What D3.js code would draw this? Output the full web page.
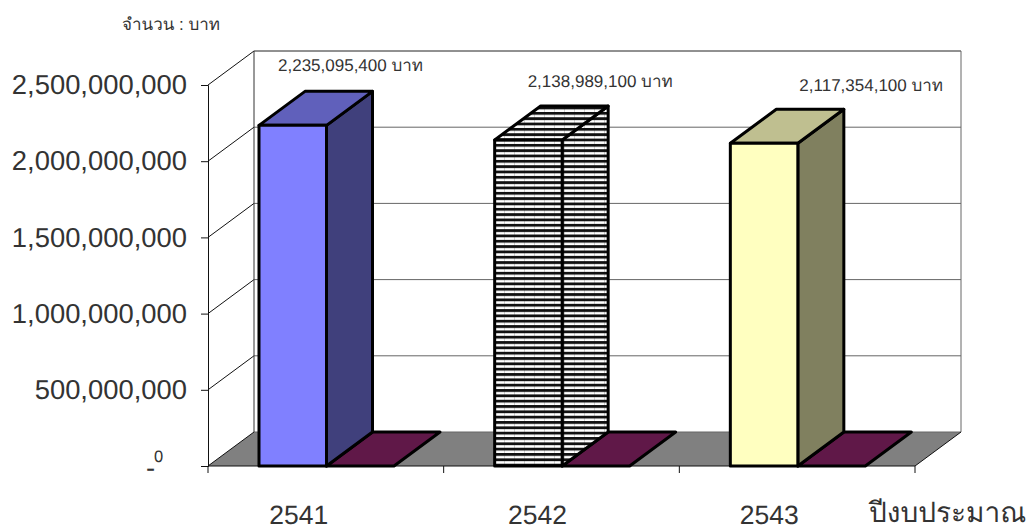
<!DOCTYPE html>
<html lang="th">
<head>
<meta charset="utf-8">
<script src="https://cdn.jsdelivr.net/npm/d3@7"></script>
<style>
  html, body { margin: 0; padding: 0; background: #fff; }
  svg { display: block; font-family: "Liberation Sans", "Noto Sans", sans-serif; text-rendering: geometricPrecision; }
  text { fill: #333; }
</style>
</head>
<body>
<div id="chart"></div>
<script>
// Data
var years = ["2541", "2542", "2543"];
var budget = [2235095400, 2138989100, 2117354100];
var secondSeries = [0, 0, 0];
var budgetLabels = ["2,235,095,400 บาท", "2,138,989,100 บาท", "2,117,354,100 บาท"];
var yTicks = [0, 500000000, 1000000000, 1500000000, 2000000000, 2500000000];
var yUnit = "จำนวน : บาท";
var xTitle = "ปีงบประมาณ";

// Face colours per year: front, top, side
var faces = [
  { front: "#8080ff", top: "#6060bb", side: "#40407c" },
  { front: "url(#stripes)", top: "url(#stripes)", side: "url(#stripes)" },
  { front: "#ffffc0", top: "#bfbf90", side: "#80805f" }
];
var zeroColor = "#601848";

// Layout
var width = 1030, height = 529;
var depthX = 46, depthY = -34;
var labelOffsets = [[19, -54], [33, -53], [69, -52]];
var yearOffsets = [-27, -24, -28];

var svg = d3.select("#chart").append("svg")
  .attr("width", width)
  .attr("height", height);

// stripes for the 2542 bar
var pattern = svg.append("defs").append("pattern")
  .attr("id", "stripes")
  .attr("patternUnits", "userSpaceOnUse")
  .attr("width", 10)
  .attr("height", 5.33);
pattern.append("rect").attr("width", 10).attr("height", 5.33).attr("fill", "#fff");
pattern.append("rect").attr("x", 4).attr("width", 1).attr("height", 5.33).attr("fill", "#d4d4d4");
pattern.append("rect").attr("width", 10).attr("height", 2.8).attr("fill", "#111");

var x = d3.scaleBand().domain(years).range([208, 915]);
var y = d3.scaleLinear().domain([0, 2500000000]).range([466, 85]);
var barWidth = 67.5;
var barLeft = function (year) { return x(year) + 51; };

var poly = function (pts) { return pts.map(function (p) { return p.join(","); }).join(" "); };

// Floor
svg.append("polygon")
  .attr("points", poly([[x.range()[0], y(0)], [x.range()[0] + depthX, y(0) + depthY],
    [x.range()[1] + depthX, y(0) + depthY], [x.range()[1], y(0)]]))
  .attr("fill", "#808080");

// Back wall gridlines
svg.selectAll(".grid")
  .data(yTicks)
  .enter().append("line")
  .attr("x1", 208 + depthX)
  .attr("x2", 915 + depthX)
  .attr("y1", function (d) { return y(d) + depthY; })
  .attr("y2", function (d) { return y(d) + depthY; })
  .attr("stroke", function (d) { return d === 2500000000 ? "#222" : "#666"; })
  .attr("stroke-width", 1);

// Side wall gridlines
svg.selectAll(".sidegrid")
  .data(yTicks)
  .enter().append("line")
  .attr("x1", 208)
  .attr("x2", 208 + depthX)
  .attr("y1", function (d) { return y(d); })
  .attr("y2", function (d) { return y(d) + depthY; })
  .attr("stroke", "#111")
  .attr("stroke-width", 1);

// Wall edges
svg.append("line").attr("x1", 254).attr("x2", 254)
  .attr("y1", y(2500000000) + depthY).attr("y2", y(0) + depthY).attr("stroke", "#333");
svg.append("line").attr("x1", 961).attr("x2", 961)
  .attr("y1", y(2500000000) + depthY).attr("y2", y(0) + depthY).attr("stroke", "#666");
svg.append("line").attr("x1", 915).attr("x2", 961)
  .attr("y1", y(0)).attr("y2", y(0) + depthY).attr("stroke", "#111");

// Y axis
var yAxis = d3.axisLeft(y)
  .tickValues(yTicks)
  .tickSize(7)
  .tickPadding(14)
  .tickFormat(function (d) { return d === 0 ? "" : d3.format(",")(d); });
var gy = svg.append("g").attr("transform", "translate(208,0)").call(yAxis);
gy.select(".domain").attr("stroke", "#111");
gy.selectAll("line").attr("stroke", "#111");
gy.selectAll("text").attr("font-size", 27.4).attr("fill", "#333").attr("font-family", "Liberation Sans");

// zero tick: large dash with a small zero
svg.append("text").attr("x", 146).attr("y", y(0) + 11).attr("font-size", 27.4).text("-");
svg.append("text").attr("x", 154).attr("y", y(0) - 4).attr("font-size", 16.5).text(yTicks[0]);

// X axis
var xEdges = x.domain().map(function (d) { return x(d); }).concat(x.range()[1]);
svg.append("line").attr("x1", 208).attr("x2", 915).attr("y1", y(0)).attr("y2", y(0)).attr("stroke", "#111");
svg.selectAll(".xtick")
  .data(xEdges)
  .enter().append("line")
  .attr("x1", function (d) { return d; })
  .attr("x2", function (d) { return d; })
  .attr("y1", y(0))
  .attr("y2", y(0) + 7)
  .attr("stroke", "#111");

svg.selectAll(".year")
  .data(years)
  .enter().append("text")
  .attr("x", function (d, i) { return x(d) + x.bandwidth() / 2 + yearOffsets[i]; })
  .attr("y", 524)
  .attr("text-anchor", "middle")
  .attr("font-size", 26.5)
  .text(function (d) { return d; });

// Zero value bars (flat on the floor)
svg.selectAll(".zero")
  .data(secondSeries)
  .enter().append("polygon")
  .attr("points", function (d, i) {
    var x0 = barLeft(years[i]) + barWidth, x1 = x0 + barWidth, b = y(d);
    return poly([[x0, b], [x0 + depthX, b + depthY], [x1 + depthX, b + depthY], [x1, b]]);
  })
  .attr("fill", zeroColor)
  .attr("stroke", "#000")
  .attr("stroke-width", 3)
  .attr("stroke-linejoin", "round");

// Main bars, three faces each
var barGroups = svg.selectAll(".bar")
  .data(budget)
  .enter().append("g")
  .attr("stroke", "#000")
  .attr("stroke-width", 3)
  .attr("stroke-linejoin", "round");

barGroups.append("polygon")
  .attr("points", function (d, i) {
    var x0 = barLeft(years[i]) + barWidth, t = y(d), b = y(0);
    return poly([[x0, t], [x0 + depthX, t + depthY], [x0 + depthX, b + depthY], [x0, b]]);
  })
  .attr("fill", function (d, i) { return faces[i].side; });

barGroups.append("polygon")
  .attr("points", function (d, i) {
    var x0 = barLeft(years[i]), t = y(d);
    return poly([[x0, t], [x0 + depthX, t + depthY], [x0 + depthX + barWidth, t + depthY], [x0 + barWidth, t]]);
  })
  .attr("fill", function (d, i) { return faces[i].top; });

barGroups.append("rect")
  .attr("x", function (d, i) { return barLeft(years[i]); })
  .attr("y", function (d) { return y(d); })
  .attr("width", barWidth)
  .attr("height", function (d) { return y(0) - y(d); })
  .attr("fill", function (d, i) { return faces[i].front; });

// Value labels
svg.selectAll(".value")
  .data(budget)
  .enter().append("text")
  .attr("x", function (d, i) { return barLeft(years[i]) + labelOffsets[i][0]; })
  .attr("y", function (d, i) { return y(d) + labelOffsets[i][1]; })
  .attr("font-size", 17)
  .text(function (d, i) { return budgetLabels[i]; });

// Titles
svg.append("text").attr("x", 122).attr("y", 30).attr("font-size", 17).text(yUnit);
svg.append("text").attr("x", 869).attr("y", 522).attr("font-size", 28).text(xTitle);
</script>
</body>
</html>
